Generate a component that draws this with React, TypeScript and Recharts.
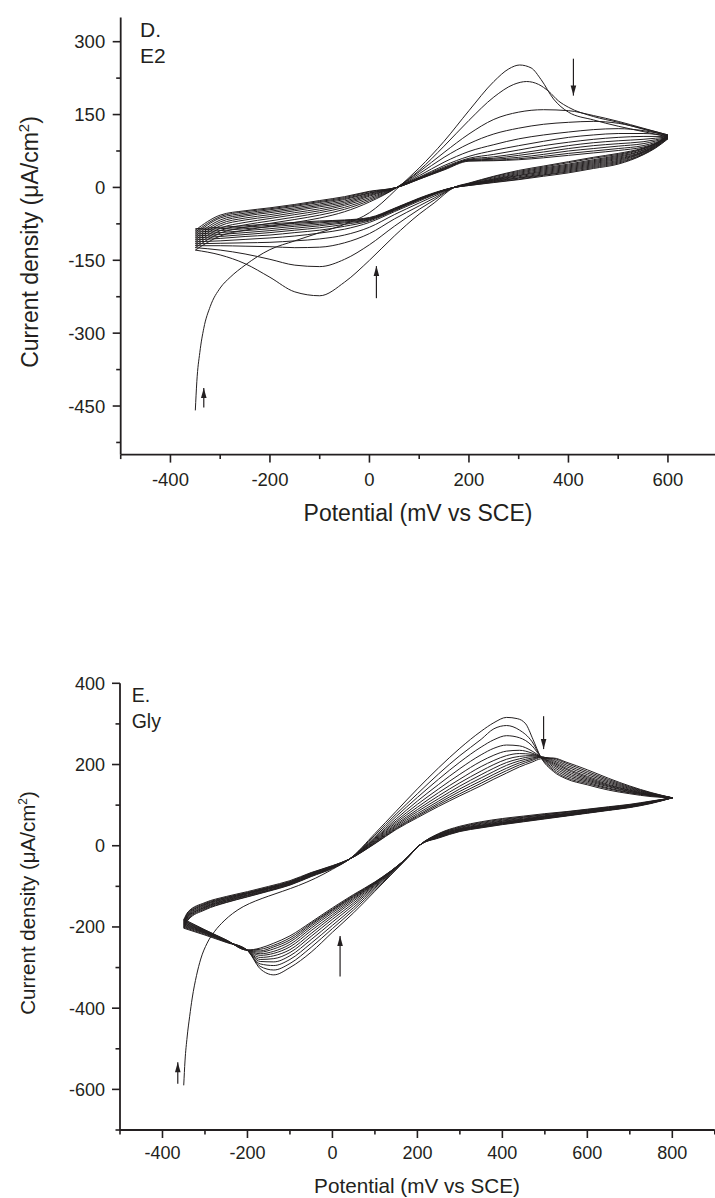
import React from 'react';
import { LineChart, Line, XAxis, YAxis, ReferenceLine, ReferenceDot } from 'recharts';

type Pt = [number, number];

const INK = '#231f20';
const FONT = '"Liberation Sans", Arial, Helvetica, sans-serif';

// ---------------- Panel D (E2) ----------------
const dXTicks = [-500, -400, -300, -200, -100, 0, 100, 200, 300, 400, 500, 600, 700];
const dXLabels = [-400, -200, 0, 200, 400, 600];
const dYTicks = [-525, -450, -375, -300, -225, -150, -75, 0, 75, 150, 225, 300];
const dYLabels = [-450, -300, -150, 0, 150, 300];

const dFwd1: Pt[] = [[-350, -459], [-347, -400], [-341, -340], [-333, -290], [-320, -245], [-300, -207], [-280, -185], [-250, -160], [-200, -128], [-150, -110], [-100, -93], [-50, -76], [0, -52], [25, -32], [55, -3], [100, 40], [150, 95], [200, 158], [250, 218], [280, 244], [302, 252], [325, 246], [345, 222], [370, 182], [400, 155], [450, 139], [500, 126], [550, 115], [600, 104]];
const dFwd2: Pt[] = [[-350, -129], [-300, -100], [-250, -88], [-200, -80], [-150, -72], [-100, -63], [-50, -50], [0, -30], [55, 0], [100, 35], [150, 85], [200, 138], [250, 186], [290, 212], [316, 218], [340, 212], [360, 198], [380, 178], [400, 165], [450, 146], [500, 134], [550, 120], [600, 106]];

const dFwdX = [-350, -300, -250, -200, -150, -100, -50, 0, 55, 100, 150, 200, 250, 300, 350, 400, 450, 500, 550, 600];
const dFwd3 = [-124, -94, -82, -74, -66, -57, -45, -27, 0, 32, 72, 110, 140, 155, 160, 158, 148, 136, 122, 108];
const dFwd4 = [-120, -89, -77, -69, -61, -52, -41, -24, 0, 28, 62, 90, 110, 122, 130, 134, 136, 132, 121, 108];
const dFwd5 = [-116, -84, -72, -64, -56, -48, -37, -21, 0, 24, 52, 74, 88, 100, 108, 114, 119, 121, 117, 107];
const dFwd6 = [-112, -79, -67, -60, -52, -44, -34, -18, 0, 21, 45, 64, 76, 86, 95, 103, 108, 111, 111, 106];
const dFwd7 = [-108, -75, -63, -56, -48, -40, -31, -16, 0, 20, 42, 60, 68, 77, 86, 93, 99, 103, 105, 105];
const dFwd8 = [-104, -71, -59, -52, -45, -37, -28, -14, 0, 19, 40, 58, 63, 70, 78, 86, 92, 96, 99, 104];
const dFwd9 = [-100, -67, -56, -49, -42, -34, -25, -12, 0, 18, 39, 57, 60, 66, 73, 80, 86, 90, 94, 103];
const dFwd10 = [-96, -63, -53, -46, -39, -31, -23, -11, 0, 18, 38, 56, 58, 62, 68, 75, 80, 85, 90, 102];
const dFwd11 = [-92, -60, -50, -44, -37, -29, -21, -9, 0, 17, 37, 55, 56, 59, 64, 70, 75, 80, 86, 101];
const dFwd12 = [-88, -57, -48, -42, -35, -27, -19, -8, 0, 17, 36, 54, 55, 57, 61, 66, 71, 76, 83, 100];

const dRevX = [600, 575, 550, 500, 450, 400, 350, 300, 250, 200, 170, 130, 100, 50, 0, -50, -100, -150, -200, -250, -300, -350];
const dRev1 = [104, 90, 81, 70, 62, 53, 44, 35, 23, 9, 0, -32, -55, -100, -150, -195, -223, -215, -185, -157, -139, -129];
const dRev2 = [106, 90, 80, 68, 60, 51, 42, 33, 22, 8, 0, -26, -45, -80, -118, -148, -163, -160, -148, -137, -129, -124];
const dRev3 = [108, 90, 79, 66, 57, 48, 40, 31, 20, 8, 0, -22, -38, -65, -95, -114, -123, -124, -122, -121, -120, -120];
const dRev4 = [108, 89, 77, 64, 55, 46, 38, 29, 18, 7, 0, -18, -32, -56, -82, -98, -106, -110, -113, -114, -115, -116];
const dRev5 = [107, 88, 76, 62, 53, 44, 36, 27, 17, 7, 0, -15, -28, -50, -72, -86, -94, -100, -104, -107, -110, -112];
const dRev6 = [106, 87, 74, 60, 51, 42, 34, 25, 16, 6, 0, -14, -26, -48, -69, -80, -88, -93, -98, -101, -105, -108];
const dRev7 = [105, 86, 73, 58, 49, 40, 32, 24, 15, 6, 0, -13, -25, -47, -67, -76, -83, -88, -93, -97, -101, -104];
const dRev8 = [104, 85, 72, 56, 47, 38, 30, 22, 14, 5, 0, -13, -24, -46, -66, -73, -79, -84, -89, -93, -97, -100];
const dRev9 = [103, 84, 71, 54, 45, 36, 28, 20, 13, 5, 0, -12, -24, -45, -65, -71, -76, -80, -85, -89, -93, -96];
const dRev10 = [102, 83, 69, 52, 43, 34, 26, 19, 12, 5, 0, -12, -23, -44, -64, -69, -73, -77, -81, -85, -89, -92];
const dRev11 = [101, 82, 68, 50, 41, 32, 25, 17, 11, 4, 0, -12, -23, -44, -63, -68, -71, -74, -78, -82, -85, -88];
const dRev12 = [100, 81, 67, 48, 39, 30, 23, 16, 10, 4, 0, -11, -22, -43, -62, -67, -69, -72, -75, -79, -82, -85];

const dArrows = [
  { x: 410, from: 265, to: 189 },
  { x: 14, from: -228, to: -162 },
  { x: -333, from: -453, to: -413 },
];

// ---------------- Panel E (Gly) ----------------
const eXTicks = [-500, -400, -300, -200, -100, 0, 100, 200, 300, 400, 500, 600, 700, 800, 900];
const eXLabels = [-400, -200, 0, 200, 400, 600, 800];
const eYTicks = [-700, -600, -500, -400, -300, -200, -100, 0, 100, 200, 300, 400];
const eYLabels = [-600, -400, -200, 0, 200, 400];

const eFwd1: Pt[] = [[-350, -590], [-347, -530], [-342, -471], [-336, -420], [-330, -375], [-320, -320], [-310, -279], [-295, -240], [-278, -212], [-255, -185], [-235, -167], [-210, -150], [-181, -136], [-150, -124], [-117, -112], [-80, -98], [-40, -80], [0, -58], [40, -33], [100, 30], [150, 85], [200, 140], [250, 192], [300, 240], [350, 282], [380, 303], [410, 316], [435, 313], [455, 300], [472, 262], [490, 219], [520, 183], [550, 165], [600, 150], [650, 137], [700, 128], [750, 121], [800, 118]];

const eFwdX = [-350, -340, -300, -250, -200, -150, -100, -50, 0, 40, 100, 150, 200, 250, 300, 350, 380, 410, 440, 470, 490, 520, 550, 600, 650, 700, 750, 800];
const eFwd2 = [-203, -183, -158, -140, -126, -112, -97, -76, -56, -33, 26, 78, 128, 177, 222, 262, 288, 296, 285, 256, 219, 186, 168, 153, 140, 130, 123, 118];
const eFwd3 = [-201, -181, -156, -139, -125, -111, -96, -75, -55, -33, 22, 72, 119, 164, 206, 243, 261, 271, 266, 246, 219, 190, 172, 156, 142, 131, 123, 118];
const eFwd4 = [-199, -179, -154, -137, -123, -110, -95, -74, -54, -33, 19, 66, 110, 151, 190, 224, 240, 248, 246, 233, 219, 194, 176, 159, 145, 133, 124, 118];
const eFwd5 = [-197, -177, -152, -136, -122, -109, -94, -73, -54, -33, 17, 61, 102, 140, 176, 208, 223, 233, 235, 228, 219, 198, 180, 162, 147, 134, 125, 118];
const eFwd6 = [-195, -175, -151, -134, -121, -107, -93, -72, -53, -33, 15, 57, 95, 131, 164, 195, 210, 222, 227, 225, 219, 201, 184, 165, 149, 136, 125, 118];
const eFwd7 = [-193, -173, -149, -133, -119, -106, -92, -71, -52, -33, 13, 53, 89, 123, 155, 184, 200, 213, 220, 222, 219, 204, 188, 168, 151, 137, 126, 118];
const eFwd8 = [-191, -171, -147, -131, -118, -105, -91, -70, -52, -33, 11, 50, 84, 116, 147, 175, 191, 205, 214, 219, 219, 207, 191, 171, 154, 139, 127, 118];
const eFwd9 = [-189, -169, -145, -130, -117, -104, -90, -69, -51, -33, 9, 47, 79, 110, 140, 167, 183, 198, 209, 216, 219, 210, 195, 175, 157, 141, 128, 118];
const eFwd10 = [-187, -167, -144, -128, -116, -103, -89, -68, -50, -33, 8, 44, 75, 105, 134, 160, 176, 191, 204, 213, 218, 213, 199, 179, 160, 143, 129, 118];
const eFwd11 = [-185, -165, -142, -127, -115, -102, -88, -67, -50, -33, 6, 42, 72, 101, 128, 154, 170, 185, 199, 210, 217, 215, 203, 183, 163, 145, 130, 118];
const eFwd12 = [-183, -163, -140, -125, -113, -100, -86, -66, -49, -33, 5, 40, 69, 97, 123, 148, 164, 179, 194, 206, 214, 216, 206, 187, 166, 147, 131, 118];

const eRevX = [800, 750, 700, 650, 600, 550, 500, 450, 400, 350, 300, 250, 206, 175, 100, 50, 0, -50, -100, -138, -170, -201, -250, -300, -350];
const eRev1 = [118, 110, 102, 96, 90, 84, 79, 73, 67, 59, 48, 30, 2, -32, -112, -165, -213, -262, -300, -318, -303, -257, -238, -220, -203];
const eRev2 = [118, 109, 101, 95, 89, 83, 77, 71, 65, 57, 46, 29, 2, -32, -108, -158, -204, -250, -290, -306, -297, -257, -237, -218, -201];
const eRev3 = [118, 109, 100, 94, 88, 82, 76, 70, 63, 55, 45, 28, 2, -31, -104, -152, -196, -240, -280, -295, -291, -257, -236, -216, -199];
const eRev4 = [118, 108, 99, 93, 87, 80, 74, 68, 61, 53, 43, 27, 2, -31, -101, -146, -188, -231, -271, -286, -285, -257, -236, -215, -197];
const eRev5 = [118, 108, 98, 92, 86, 79, 73, 66, 60, 51, 42, 26, 2, -31, -98, -141, -181, -223, -263, -278, -280, -257, -235, -214, -195];
const eRev6 = [118, 107, 98, 91, 85, 78, 72, 65, 58, 50, 41, 25, 2, -30, -96, -136, -175, -216, -256, -271, -275, -257, -235, -213, -193];
const eRev7 = [118, 107, 97, 90, 84, 77, 71, 64, 57, 49, 40, 24, 2, -30, -94, -132, -170, -209, -249, -265, -270, -257, -234, -212, -191];
const eRev8 = [118, 106, 96, 89, 83, 76, 70, 63, 56, 48, 39, 23, 2, -30, -93, -129, -165, -203, -243, -260, -266, -257, -234, -211, -189];
const eRev9 = [118, 106, 96, 89, 82, 75, 69, 62, 55, 47, 38, 22, 2, -30, -92, -126, -161, -198, -237, -254, -262, -257, -233, -210, -187];
const eRev10 = [118, 105, 95, 88, 81, 74, 68, 61, 54, 46, 37, 21, 2, -30, -91, -124, -158, -194, -232, -249, -259, -257, -233, -209, -185];
const eRev11 = [118, 105, 95, 88, 81, 74, 67, 60, 53, 45, 36, 20, 2, -30, -90, -122, -156, -191, -227, -245, -255, -257, -232, -208, -183];
const eRev12 = [118, 104, 94, 87, 80, 73, 66, 59, 52, 44, 35, 19, 2, -30, -89, -120, -153, -188, -222, -240, -252, -257, -232, -207, -181];

const eArrows = [
  { x: 497, from: 319, to: 238 },
  { x: 18, from: -322, to: -222 },
  { x: -364, from: -586, to: -533 },
];

// ---------------- helpers ----------------
const zip = (xs: number[], ys: number[]): Pt[] => xs.map((x, i) => [x, ys[i]] as Pt);
const rows = (pts: Pt[]) => pts.map(([x, y]) => ({ x, y }));

const dSeries: Pt[][] = [
  dFwd1, zip(dRevX, dRev1), dFwd2, zip(dRevX, dRev2),
  zip(dFwdX, dFwd3), zip(dRevX, dRev3), zip(dFwdX, dFwd4), zip(dRevX, dRev4),
  zip(dFwdX, dFwd5), zip(dRevX, dRev5), zip(dFwdX, dFwd6), zip(dRevX, dRev6),
  zip(dFwdX, dFwd7), zip(dRevX, dRev7), zip(dFwdX, dFwd8), zip(dRevX, dRev8),
  zip(dFwdX, dFwd9), zip(dRevX, dRev9), zip(dFwdX, dFwd10), zip(dRevX, dRev10),
  zip(dFwdX, dFwd11), zip(dRevX, dRev11), zip(dFwdX, dFwd12), zip(dRevX, dRev12),
];

const eSeries: Pt[][] = [
  eFwd1, zip(eRevX, eRev1), zip(eFwdX, eFwd2), zip(eRevX, eRev2),
  zip(eFwdX, eFwd3), zip(eRevX, eRev3), zip(eFwdX, eFwd4), zip(eRevX, eRev4),
  zip(eFwdX, eFwd5), zip(eRevX, eRev5), zip(eFwdX, eFwd6), zip(eRevX, eRev6),
  zip(eFwdX, eFwd7), zip(eRevX, eRev7), zip(eFwdX, eFwd8), zip(eRevX, eRev8),
  zip(eFwdX, eFwd9), zip(eRevX, eRev9), zip(eFwdX, eFwd10), zip(eRevX, eRev10),
  zip(eFwdX, eFwd11), zip(eRevX, eRev11), zip(eFwdX, eFwd12), zip(eRevX, eRev12),
];

type Arrow = { x: number; from: number; to: number };

type PanelProps = {
  top: number;
  width: number;
  height: number;
  marginTop: number;
  marginRight: number;
  yAxisWidth: number;
  xAxisHeight: number;
  xDomain: [number, number];
  yDomain: [number, number];
  xTicks: number[];
  xLabels: number[];
  yTicks: number[];
  yLabels: number[];
  fontSize: number;
  xLabelDy: number;
  yLabelDx: number;
  series: Pt[][];
  arrows: Arrow[];
};

const MAJOR = 8;
const MINOR = 4.5;

function Panel(p: PanelProps) {
  const xTick = (props: any) => {
    const { x, y, payload } = props;
    const v = payload.value;
    const major = p.xLabels.includes(v);
    return (
      <g>
        <line x1={x} y1={y} x2={x} y2={y + (major ? MAJOR : MINOR)} stroke={INK} strokeWidth={1.6} />
        {major ? (
          <text x={x} y={y + p.xLabelDy} textAnchor="middle" fontSize={p.fontSize} fontFamily={FONT} fill={INK}>
            {v}
          </text>
        ) : null}
      </g>
    );
  };
  const yTick = (props: any) => {
    const { x, y, payload } = props;
    const v = payload.value;
    const major = p.yLabels.includes(v);
    return (
      <g>
        <line x1={x - (major ? MAJOR : MINOR)} y1={y} x2={x} y2={y} stroke={INK} strokeWidth={1.6} />
        {major ? (
          <text x={x - p.yLabelDx} y={y} dy="0.36em" textAnchor="end" fontSize={p.fontSize} fontFamily={FONT} fill={INK}>
            {v}
          </text>
        ) : null}
      </g>
    );
  };
  return (
    <div style={{ position: 'absolute', left: 0, top: p.top }}>
      <LineChart
        width={p.width}
        height={p.height}
        margin={{ top: p.marginTop, right: p.marginRight, left: 0, bottom: 0 }}
      >
        <XAxis
          dataKey="x"
          type="number"
          domain={p.xDomain}
          ticks={p.xTicks}
          interval={0}
          allowDataOverflow
          height={p.xAxisHeight}
          tickSize={0}
          tickMargin={0}
          tickLine={false}
          axisLine={{ stroke: INK, strokeWidth: 1.8 }}
          tick={xTick}
        />
        <YAxis
          dataKey="y"
          type="number"
          domain={p.yDomain}
          ticks={p.yTicks}
          interval={0}
          allowDataOverflow
          width={p.yAxisWidth}
          tickSize={0}
          tickMargin={0}
          tickLine={false}
          axisLine={{ stroke: INK, strokeWidth: 1.8 }}
          tick={yTick}
        />
        {p.series.map((s, i) => (
          <Line
            key={`s${i}`}
            data={rows(s)}
            dataKey="y"
            type="monotone"
            stroke={INK}
            strokeWidth={1}
            dot={false}
            activeDot={false}
            isAnimationActive={false}
          />
        ))}
        {p.arrows.map((a, i) => (
          <ReferenceLine
            key={`al${i}`}
            segment={[{ x: a.x, y: a.from }, { x: a.x, y: a.to }]}
            stroke={INK}
            strokeWidth={1.2}
          />
        ))}
        {p.arrows.map((a, i) => {
          const up = a.to > a.from;
          return (
            <ReferenceDot
              key={`ah${i}`}
              x={a.x}
              y={a.to}
              r={3}
              shape={(props: any) => {
                const { cx, cy } = props;
                const d = up
                  ? `M${cx},${cy} L${cx - 2.8},${cy + 10} L${cx + 2.8},${cy + 10} Z`
                  : `M${cx},${cy} L${cx - 2.8},${cy - 10} L${cx + 2.8},${cy - 10} Z`;
                return <path d={d} fill={INK} stroke="none" />;
              }}
            />
          );
        })}
      </LineChart>
    </div>
  );
}

export default function App() {
  return (
    <div
      style={{
        position: 'absolute',
        left: 0,
        top: 0,
        width: 715,
        height: 1198,
        overflow: 'hidden',
        background: '#ffffff',
      }}
    >
      <Panel
        top={0}
        width={730}
        height={540}
        marginTop={17.4}
        marginRight={12.3}
        yAxisWidth={120.7}
        xAxisHeight={85.4}
        xDomain={[-500, 700]}
        yDomain={[-550, 350]}
        xTicks={dXTicks}
        xLabels={dXLabels}
        yTicks={dYTicks}
        yLabels={dYLabels}
        fontSize={18.5}
        xLabelDy={31}
        yLabelDx={15.5}
        series={dSeries}
        arrows={dArrows}
      />
      <Panel
        top={640}
        width={730}
        height={560}
        marginTop={43.3}
        marginRight={15.2}
        yAxisWidth={120}
        xAxisHeight={70}
        xDomain={[-500, 900]}
        yDomain={[-700, 400]}
        xTicks={eXTicks}
        xLabels={eXLabels}
        yTicks={eYTicks}
        yLabels={eYLabels}
        fontSize={18}
        xLabelDy={29.3}
        yLabelDx={15}
        series={eSeries}
        arrows={eArrows}
      />
      <svg
        width={715}
        height={1198}
        style={{ position: 'absolute', left: 0, top: 0, pointerEvents: 'none' }}
        fontFamily={FONT}
        fill={INK}
      >
        <text x={140} y={36.7} fontSize={21}>D.</text>
        <text x={140} y={63.3} fontSize={21}>E2</text>
        <text x={418} y={521} fontSize={23} textAnchor="middle">Potential (mV vs SCE)</text>
        <text transform="translate(37.5,242) rotate(-90)" fontSize={23} textAnchor="middle">
          Current density (μA/cm<tspan dy={-9} fontSize={15}>2</tspan>
          <tspan dy={9}>)</tspan>
        </text>

        <text x={131.7} y={702.3} fontSize={19.5}>E.</text>
        <text x={131.7} y={728.3} fontSize={19.5}>Gly</text>
        <text x={417} y={1193} fontSize={20.7} textAnchor="middle">Potential (mV vs SCE)</text>
        <text transform="translate(34.5,903) rotate(-90)" fontSize={20.5} textAnchor="middle">
          Current density (μA/cm<tspan dy={-7.5} fontSize={12}>2</tspan>
          <tspan dy={7.5}>)</tspan>
        </text>
      </svg>
    </div>
  );
}
